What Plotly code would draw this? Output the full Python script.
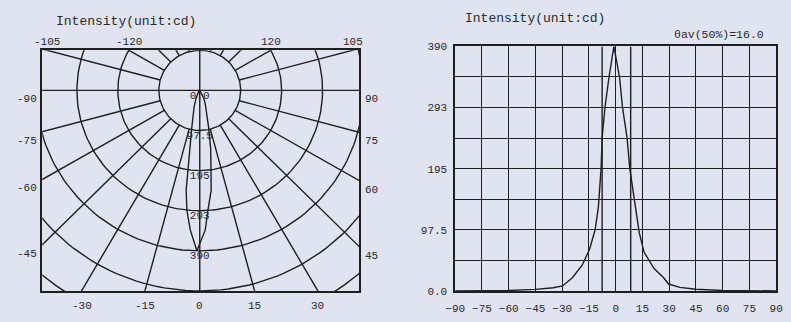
import math
import plotly.graph_objects as go

# ---- left panel: polar intensity diagram ----
ring_values = [97.5, 195, 292.5, 390, 487.5, 585]
ring_label_values = [0, 97.5, 195, 292.5, 390]
ring_labels = ["0.0", "97.5", "195", "293", "390"]
spoke_angles = list(range(-180, 180, 15))
angle_labels = [-105, -120, 120, 105, -90, -75, -60, -45, 90, 75, 60, 45, -30, -15, 0, 15, 30]

# ---- right panel: intensity vs angle ----
angles = [-90, -60, -45, -35, -29.8, -24.3, -18.8, -14.6, -11.5, -9.7, -8.2, -7.6, -6, -3.8, -1,
          2.2, 3.8, 6.4, 7.9, 10.4, 13.2, 15.9, 21.4, 26.9, 29.6, 36, 45, 60, 90]
intensity = [0, 0.8, 2.5, 5, 8, 21, 41, 67, 98, 134, 195, 244, 293, 340, 390,
             340, 293, 244, 195, 144, 93, 62, 36, 21, 11, 5.6, 2.6, 0.8, 0]
half_angles = [-7.6, 8.4]
y_ticks = [0, 48.75, 97.5, 146.25, 195, 243.75, 292.5, 341.25, 390]
y_ticktext = ["0.0", "", "97.5", "", "195", "", "293", "", "390"]
x_ticks = list(range(-90, 91, 15))

INK = "#1f1f1f"
TXT = "#2a2a2a"
BG = "#dfe4f0"
FONT = "Liberation Mono"
LW = 1.4

X0, X1 = -375, 380
Y0, Y1 = -487.5, 97.5


def pol(r, a):
    t = math.radians(a)
    return r * math.sin(t), -r * math.cos(t)


fig = go.Figure()

# rings
cx, cy = [], []
for r in ring_values:
    for k in range(0, 361, 2):
        x, y = pol(r, k)
        cx.append(x)
        cy.append(y)
    cx.append(None)
    cy.append(None)
fig.add_trace(go.Scatter(x=cx, y=cy, mode="lines", line=dict(color=INK, width=LW),
                         hoverinfo="skip", xaxis="x", yaxis="y"))

# spokes
sx, sy = [], []
for a in spoke_angles:
    r0 = 0 if a % 90 == 0 else ring_values[0]
    for r in (r0, 900):
        x, y = pol(r, a)
        sx.append(x)
        sy.append(y)
    sx.append(None)
    sy.append(None)
fig.add_trace(go.Scatter(x=sx, y=sy, mode="lines", line=dict(color=INK, width=LW),
                         hoverinfo="skip", xaxis="x", yaxis="y"))

# lobe
lx = [pol(v, a)[0] for a, v in zip(angles, intensity)]
ly = [pol(v, a)[1] for a, v in zip(angles, intensity)]
fig.add_trace(go.Scatter(x=lx, y=ly, mode="lines", line=dict(color=INK, width=LW),
                         hoverinfo="skip", xaxis="x", yaxis="y"))

# ring labels
fig.add_trace(go.Scatter(x=[0] * len(ring_label_values), y=[-r for r in ring_label_values],
                         mode="text", text=ring_labels, textposition="bottom center",
                         textfont=dict(family=FONT, size=11, color=TXT), cliponaxis=False,
                         hoverinfo="skip", xaxis="x", yaxis="y"))

# angle labels where the spokes meet the frame
for a in angle_labels:
    dx, dy = pol(1, a)
    tx = X1 / dx if dx > 1e-9 else (X0 / dx if dx < -1e-9 else float("inf"))
    ty = Y1 / dy if dy > 1e-9 else (Y0 / dy if dy < -1e-9 else float("inf"))
    t = min(tx, ty)
    px, py = dx * t, dy * t
    if tx <= ty:
        if dx < 0:
            opts = dict(x=X0, y=py, xanchor="right", yanchor="top", xshift=-3, yshift=-1)
        else:
            opts = dict(x=X1, y=py, xanchor="left", yanchor="top", xshift=4, yshift=-1)
    else:
        if dy < 0:
            opts = dict(x=px, y=Y0, xanchor="center", yanchor="top", yshift=-7)
        else:
            opts = dict(x=px, y=Y1, xanchor="center", yanchor="bottom", yshift=0)
    fig.add_annotation(text=str(a), xref="x", yref="y", showarrow=False,
                       font=dict(family=FONT, size=11, color=TXT), **opts)

# right chart curve
fig.add_trace(go.Scatter(x=angles, y=intensity, mode="lines", line=dict(color=INK, width=LW),
                         hoverinfo="skip", xaxis="x2", yaxis="y2"))
for h in half_angles:
    fig.add_shape(type="line", xref="x2", yref="y2", x0=h, x1=h, y0=0, y1=390,
                  line=dict(color=INK, width=LW))

frame = dict(showline=True, mirror=True, linecolor=INK, linewidth=1.6, zeroline=False)
fig.update_layout(
    width=791, height=322, showlegend=False,
    margin=dict(l=0, r=0, t=0, b=0),
    paper_bgcolor=BG, plot_bgcolor=BG,
    font=dict(family=FONT, size=11, color=TXT),
    xaxis=dict(domain=[0.0417, 0.4513], range=[X0, X1], showgrid=False,
               showticklabels=False, ticks="", **frame),
    yaxis=dict(domain=[0.0776, 0.854], range=[Y0, Y1], showgrid=False,
               showticklabels=False, ticks="", **frame),
    xaxis2=dict(domain=[0.5752, 0.9899], range=[-90, 90], tickvals=x_ticks,
                showgrid=True, gridcolor=INK, gridwidth=LW, ticks="",
                ticklabelstandoff=6, anchor="y2", **frame),
    yaxis2=dict(domain=[0.0776, 0.8665], range=[0, 390], tickvals=y_ticks,
                ticktext=y_ticktext, showgrid=True, gridcolor=INK, gridwidth=LW,
                ticks="", ticklabelstandoff=4, anchor="x2", **frame),
)

fig.add_annotation(text="Intensity(unit:cd)", xref="paper", yref="paper", x=45 / 791,
                   y=(322 - 17) / 322, xanchor="left", yanchor="middle", showarrow=False,
                   font=dict(family=FONT, size=13, color=TXT))
fig.add_annotation(text="Intensity(unit:cd)", xref="paper", yref="paper", x=463 / 791,
                   y=(322 - 14) / 322, xanchor="left", yanchor="middle", showarrow=False,
                   font=dict(family=FONT, size=13, color=TXT))
fig.add_annotation(text="θav(50%)=16.0", xref="paper", yref="paper", x=773 / 791,
                   y=(322 - 31) / 322, xanchor="right", yanchor="middle", showarrow=False,
                   font=dict(family=FONT, size=11.5, color=TXT))

# page body margin would push the figure 8px off the viewport
fig.write_html("out.html", config={"displayModeBar": False},
               post_script="document.body.style.margin='0';"
                           "document.body.style.background='" + BG + "';")
